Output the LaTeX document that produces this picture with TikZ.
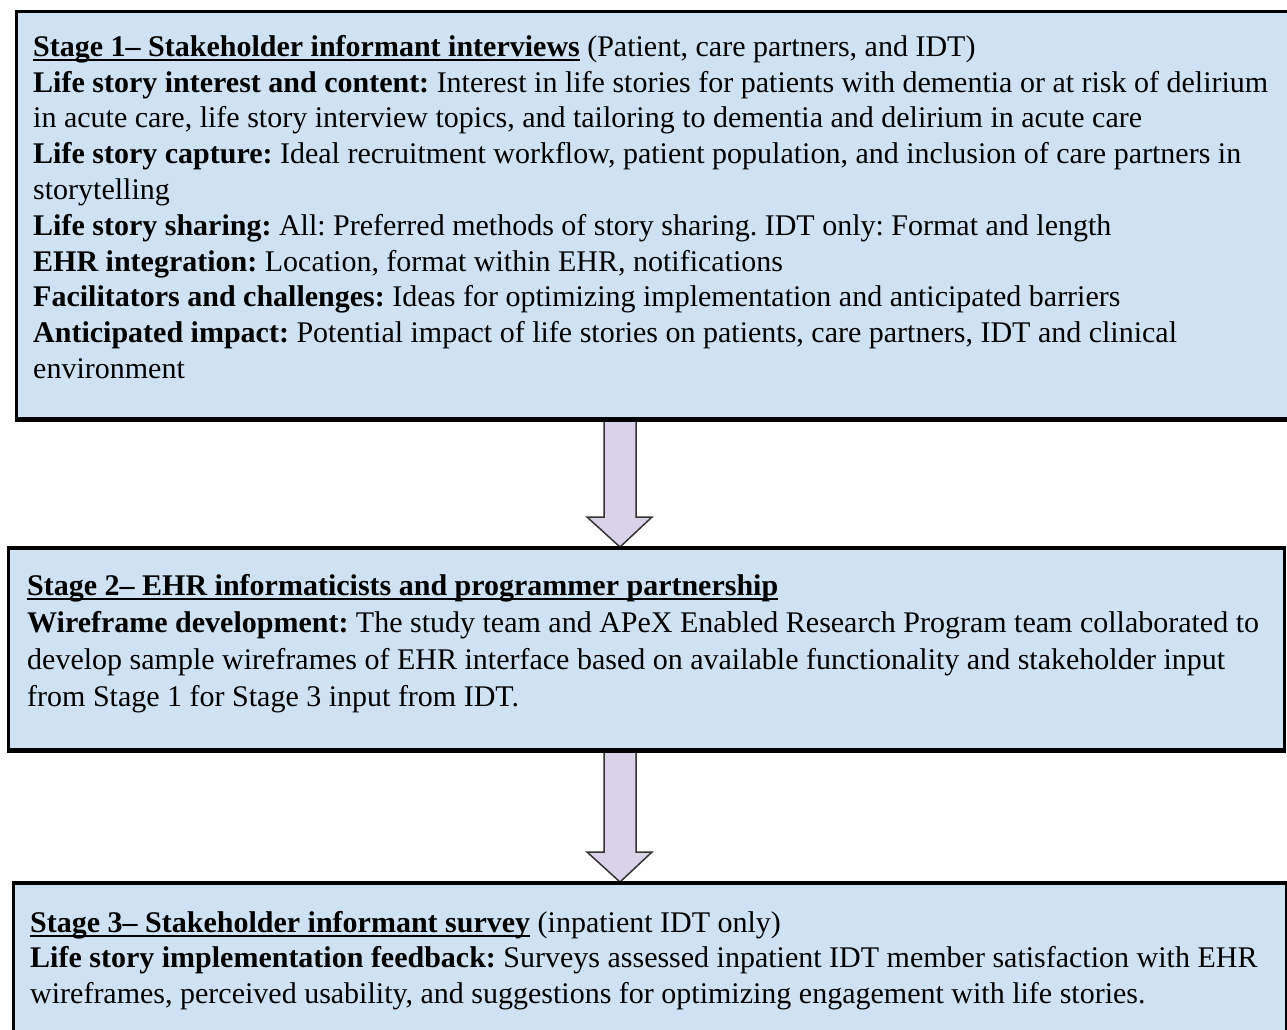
\documentclass[tikz,border=0pt]{standalone}
\usepackage{fontspec}
\setmainfont{Liberation Serif}
\usetikzlibrary{calc}
\definecolor{boxblue}{HTML}{CFE2F3}
\definecolor{arrowlav}{HTML}{D9D2E9}
\newcommand\myul[1]{\setbox0\hbox{#1}\rlap{\rule[-4.5pt]{\wd0}{2.2pt}}\box0\relax}
\tikzset{
  stagebox/.style={draw=black, line width=3pt, fill=boxblue, anchor=north west, inner sep=0pt},
  boxtext/.style={anchor=north west, inner sep=0pt, align=left, text=black},
  downarrow/.style={draw=black!80, line width=1.5pt, fill=arrowlav, line join=miter}
}
\begin{document}
\frenchspacing
\begin{tikzpicture}[x=1pt,y=-1pt]
\clip (0,0) rectangle (1287,1030);
\fill[white] (0,0) rectangle (1287,1030);
% boxes
\node[stagebox, minimum width=1290pt, minimum height=407pt] (b1) at (15,10) {};
\node[stagebox, minimum width=1276pt, minimum height=201pt] (b2) at (7,547) {};
\node[stagebox, minimum width=1273pt, minimum height=170pt] (b3) at (12,882) {};
% texts
\node[boxtext, font=\fontsize{30}{35.8}\selectfont] (t1) at (33,35) {%
\myul{\textbf{Stage 1– Stakeholder informant interviews}} (Patient, care partners, and IDT)\\
\textbf{Life story interest and content:} Interest in life stories for patients with dementia or at risk of delirium\\
in acute care, life story interview topics, and tailoring to dementia and delirium in acute care\\
\textbf{Life story capture:} Ideal recruitment workflow, patient population, and inclusion of care partners in\\
storytelling\\
\textbf{Life story sharing:} All: Preferred methods of story sharing. IDT only: Format and length\\
\textbf{EHR integration:} Location, format within EHR, notifications\\
\textbf{Facilitators and challenges:} Ideas for optimizing implementation and anticipated barriers\\
\textbf{Anticipated impact:} Potential impact of life stories on patients, care partners, IDT and clinical\\
environment};
\node[boxtext, font=\fontsize{30}{37}\selectfont] (t2) at (27,574) {%
\myul{\textbf{Stage 2– EHR informaticists and programmer partnership}}\\
\textbf{Wireframe development:} The study team and APeX Enabled Research Program team collaborated to\\
develop sample wireframes of EHR interface based on available functionality and stakeholder input\\
from Stage 1 for Stage 3 input from IDT.};
\node[boxtext, font=\fontsize{30}{35.5}\selectfont] (t3) at (30,911) {%
\myul{\textbf{Stage 3– Stakeholder informant survey}} (inpatient IDT only)\\
\textbf{Life story implementation feedback:} Surveys assessed inpatient IDT member satisfaction with EHR\\
wireframes, perceived usability, and suggestions for optimizing engagement with life stories.};
% arrows
\draw[downarrow] let \p1=(b1.south), \p2=(b2.north) in
  (604,\y1) -- (604,\y2+30pt) -- (587,\y2+30pt) -- (620,\y2) -- (652,\y2+30pt) -- (636,\y2+30pt) -- (636,\y1) -- cycle;
\draw[downarrow] let \p1=(b2.south), \p2=(b3.north) in
  (604,\y1) -- (604,\y2+30pt) -- (587,\y2+30pt) -- (620,\y2) -- (652,\y2+30pt) -- (636,\y2+30pt) -- (636,\y1) -- cycle;
% redraw box edges over arrow ends
\draw[line width=3pt] (b1.south west) -- (b1.south east);
\draw[line width=3pt] (b2.north west) -- (b2.north east);
\draw[line width=3pt] (b2.south west) -- (b2.south east);
\draw[line width=3pt] (b3.north west) -- (b3.north east);
\end{tikzpicture}
\end{document}
